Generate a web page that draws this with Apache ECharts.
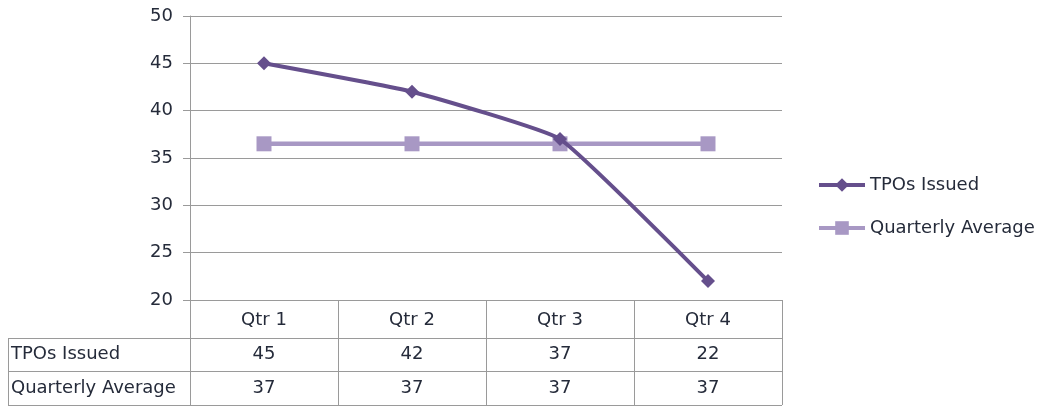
<!DOCTYPE html>
<html>
<head>
<meta charset="utf-8">
<script src="https://cdn.jsdelivr.net/npm/echarts@6/dist/echarts.min.js"></script>
<style>
  html, body { margin: 0; padding: 0; background: #fff; }
  #chart { width: 1044px; height: 409px; }
</style>
</head>
<body>
<div id="chart"></div>
<script>
// Quarterly TPO counts and their running average
const quarters = ['Qtr 1', 'Qtr 2', 'Qtr 3', 'Qtr 4'];
const tposIssued = [45, 42, 37, 22];
const quarterlyAverage = [36.5, 36.5, 36.5, 36.5];
const seriesNames = ['TPOs Issued', 'Quarterly Average'];
const yTicks = [20, 25, 30, 35, 40, 45, 50];

const FONT = 'DejaVu Sans';
const FS = 18;
const TEXT = '#252b3a';
const GRID_LINE = '#9a9a9a';
const C_TPO = '#654f8c';
const C_AVG = '#a898c4';

const chart = echarts.init(document.getElementById('chart'));

const option = {
  animation: false,
  grid: { left: 190, right: 262, top: 16, bottom: 109, containLabel: false },
  legend: {
    orient: 'vertical',
    left: 812,
    top: 171,
    padding: 5,
    itemWidth: 46,
    itemHeight: 17,
    itemGap: 25,
    lineStyle: { width: 4 },
    textStyle: { fontFamily: FONT, fontSize: FS, color: TEXT },
    data: seriesNames
  },
  xAxis: {
    type: 'category',
    data: quarters,
    boundaryGap: true,
    axisLine: { show: true, lineStyle: { color: GRID_LINE, width: 1 } },
    axisTick: { show: true, length: 105, interval: 0, lineStyle: { color: GRID_LINE, width: 1 } },
    axisLabel: { fontFamily: FONT, fontSize: FS, color: TEXT, margin: 11 }
  },
  yAxis: {
    type: 'value',
    min: yTicks[0],
    max: yTicks[yTicks.length - 1],
    interval: 5,
    axisLine: { show: true, lineStyle: { color: GRID_LINE, width: 1 } },
    axisTick: { show: true, length: 7, lineStyle: { color: GRID_LINE } },
    axisLabel: { fontFamily: FONT, fontSize: FS, color: TEXT, margin: 17 },
    splitLine: { show: true, lineStyle: { color: GRID_LINE, width: 1 } }
  },
  series: [
    {
      name: seriesNames[0],
      type: 'line',
      data: tposIssued,
      smooth: 0.12,
      symbol: 'diamond',
      symbolSize: 14,
      lineStyle: { color: C_TPO, width: 4 },
      itemStyle: { color: C_TPO },
      z: 3
    },
    {
      name: seriesNames[1],
      type: 'line',
      data: quarterlyAverage,
      symbol: 'rect',
      symbolSize: 15,
      lineStyle: { color: C_AVG, width: 4.5 },
      itemStyle: { color: C_AVG },
      z: 2
    }
  ]
};

chart.setOption(option);

// Data table beneath the plot, aligned to the category columns
function buildTable() {
  const r1 = 338, r2 = 371, bottom = 405;
  const tableLeft = 8;
  const xs = quarters.map((q) => chart.convertToPixel({ xAxisIndex: 0 }, q));
  const plotRight = 782;
  const g = [];
  const hLine = (y) => ({
    type: 'line',
    shape: { x1: tableLeft, y1: y, x2: plotRight, y2: y },
    style: { stroke: GRID_LINE, lineWidth: 1 },
    silent: true
  });
  g.push(hLine(r1 + 0.5), hLine(r2 + 0.5), hLine(bottom + 0.5));
  g.push({
    type: 'line',
    shape: { x1: tableLeft + 0.5, y1: r1, x2: tableLeft + 0.5, y2: bottom },
    style: { stroke: GRID_LINE, lineWidth: 1 },
    silent: true
  });
  const rows = [
    { name: seriesNames[0], vals: tposIssued, y: (r1 + r2) / 2 },
    { name: seriesNames[1], vals: quarterlyAverage, y: (r2 + bottom) / 2 }
  ];
  rows.forEach((row) => {
    g.push({
      type: 'text',
      x: tableLeft + 3,
      y: row.y,
      style: {
        text: row.name,
        fontFamily: FONT,
        fontSize: FS,
        fill: TEXT,
        verticalAlign: 'middle',
        align: 'left'
      }
    });
    row.vals.forEach((v, i) => {
      g.push({
        type: 'text',
        x: xs[i],
        y: row.y,
        style: {
          text: String(Math.round(v)),
          fontFamily: FONT,
          fontSize: FS,
          fill: TEXT,
          verticalAlign: 'middle',
          align: 'center'
        }
      });
    });
  });
  chart.setOption({ graphic: g });
}
buildTable();
</script>
</body>
</html>
